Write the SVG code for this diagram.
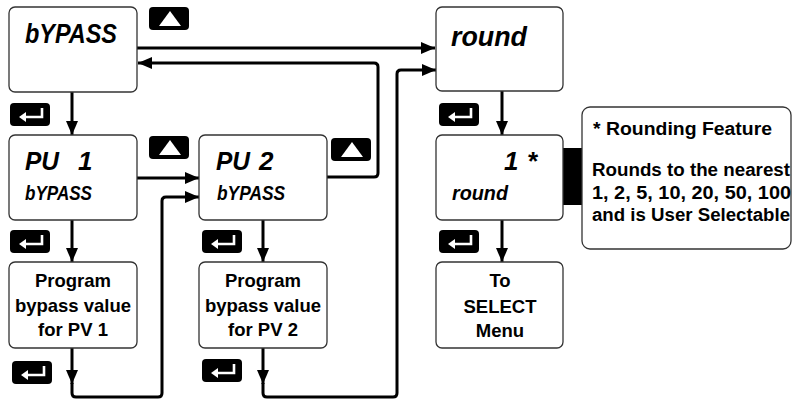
<svg xmlns="http://www.w3.org/2000/svg" xmlns:xlink="http://www.w3.org/1999/xlink" width="793" height="400" viewBox="0 0 793 400">
<style>
.box{fill:#fff;stroke:#333;stroke-width:1.3}
.wire{fill:none;stroke:#000;stroke-width:3;stroke-linejoin:round}
.seg{font-family:"Liberation Sans",Arial,sans-serif;font-weight:bold;font-style:italic;fill:#000}
.lbl{font-family:"Liberation Sans",Arial,sans-serif;font-weight:bold;font-size:18.5px;fill:#000;text-anchor:middle}
.note{font-family:"Liberation Sans",Arial,sans-serif;font-weight:bold;font-size:18px;fill:#000}
</style>
<defs>
<marker id="ah" markerUnits="userSpaceOnUse" markerWidth="14" markerHeight="12" refX="14" refY="6" orient="auto">
<path d="M0,0 L14,6 L0,12 z" fill="#000"/>
</marker>
<g id="up"><rect x="0" y="0" width="40" height="23" rx="4" fill="#000"/><path d="M10,19 L32,19 L21,4 z" fill="#fff"/></g>
<g id="enter"><rect x="0" y="0" width="40" height="23" rx="4" fill="#000"/><path d="M32,5 V14 H14" fill="none" stroke="#fff" stroke-width="2.6"/><path d="M9,14 L16,9 L16,19 z" fill="#fff"/></g>
</defs>

<g id="connectors">
<path class="wire" d="M137,48 H435" marker-end="url(#ah)"/>
<path class="wire" d="M327,177 H374 Q378,177 378,173 V67 Q378,63 374,63 H138" marker-end="url(#ah)"/>
<path class="wire" d="M72,92 V135" marker-end="url(#ah)"/>
<path class="wire" d="M137,178 H199" marker-end="url(#ah)"/>
<path class="wire" d="M72,220 V262" marker-end="url(#ah)"/>
<path class="wire" d="M72,348 V384" marker-end="url(#ah)"/>
<path class="wire" d="M72,383 V393 Q72,397 76,397 H158 Q162,397 162,393 V201 Q162,197 166,197 H199" marker-end="url(#ah)"/>
<path class="wire" d="M263,220 V262" marker-end="url(#ah)"/>
<path class="wire" d="M263,348 V384" marker-end="url(#ah)"/>
<path class="wire" d="M263,383 V393 Q263,397 267,397 H393 Q397,397 397,393 V74 Q397,70 401,70 H436" marker-end="url(#ah)"/>
<path class="wire" d="M502,91 V135" marker-end="url(#ah)"/>
<path class="wire" d="M502,220 V262" marker-end="url(#ah)"/>
<rect x="563" y="148" width="19" height="57" fill="#000"/>
</g>

<g id="buttons">
<use xlink:href="#up" x="149" y="7"/>
<use xlink:href="#up" x="149" y="136"/>
<use xlink:href="#up" x="331" y="138"/>
<use xlink:href="#enter" x="10" y="103"/>
<use xlink:href="#enter" x="10" y="230"/>
<use xlink:href="#enter" x="12" y="361"/>
<use xlink:href="#enter" x="202" y="230"/>
<use xlink:href="#enter" x="202" y="359"/>
<use xlink:href="#enter" x="439" y="103"/>
<use xlink:href="#enter" x="439" y="230"/>
</g>

<g id="node-bypass">
<rect class="box" x="9" y="7" width="128" height="85" rx="6"/>
<text class="seg" x="25" y="43" font-size="27" textLength="92" lengthAdjust="spacingAndGlyphs">bYPASS</text>
</g>

<g id="node-pv1">
<rect class="box" x="9" y="135" width="128" height="85" rx="6"/>
<text class="seg" y="170" font-size="26"><tspan x="25" textLength="34" lengthAdjust="spacingAndGlyphs">PU</tspan> <tspan x="78">1</tspan></text>
<text class="seg" x="25" y="200" font-size="20" textLength="67" lengthAdjust="spacingAndGlyphs">bYPASS</text>
</g>

<g id="node-pv2">
<rect class="box" x="199" y="135" width="128" height="85" rx="6"/>
<text class="seg" y="170" font-size="26"><tspan x="216" textLength="34" lengthAdjust="spacingAndGlyphs">PU</tspan> <tspan x="259">2</tspan></text>
<text class="seg" x="217" y="200" font-size="20" textLength="68" lengthAdjust="spacingAndGlyphs">bYPASS</text>
</g>

<g id="node-prog1">
<rect class="box" x="9" y="262" width="128" height="86" rx="6"/>
<text class="lbl" x="73" y="287">Program</text>
<text class="lbl" x="73" y="312">bypass value</text>
<text class="lbl" x="73" y="336">for PV 1</text>
</g>

<g id="node-prog2">
<rect class="box" x="199" y="262" width="128" height="86" rx="6"/>
<text class="lbl" x="263" y="287">Program</text>
<text class="lbl" x="263" y="312">bypass value</text>
<text class="lbl" x="263" y="336">for PV 2</text>
</g>

<g id="node-round">
<rect class="box" x="436" y="7" width="127" height="84" rx="6"/>
<text class="seg" x="451" y="46" font-size="28" textLength="76" lengthAdjust="spacingAndGlyphs">round</text>
</g>

<g id="node-round-value">
<rect class="box" x="436" y="135" width="127" height="85" rx="6"/>
<text class="seg" x="504" y="170" font-size="26">1 <tspan x="527">*</tspan></text>
<text class="seg" x="452" y="200" font-size="20" textLength="56" lengthAdjust="spacingAndGlyphs">round</text>
</g>

<g id="node-select">
<rect class="box" x="436" y="262" width="127" height="86" rx="6"/>
<text class="lbl" x="500" y="287">To</text>
<text class="lbl" x="500" y="313">SELECT</text>
<text class="lbl" x="500" y="337">Menu</text>
</g>

<g id="node-note">
<rect class="box" x="582" y="107" width="209" height="142" rx="8"/>
<text class="note" x="593" y="135" textLength="179" lengthAdjust="spacingAndGlyphs">* Rounding Feature</text>
<text class="note" x="592" y="176" textLength="198" lengthAdjust="spacingAndGlyphs">Rounds to the nearest</text>
<text class="note" x="592" y="199" textLength="199" lengthAdjust="spacingAndGlyphs">1, 2, 5, 10, 20, 50, 100</text>
<text class="note" x="592" y="221" textLength="198" lengthAdjust="spacingAndGlyphs">and is User Selectable</text>
</g>
</svg>
